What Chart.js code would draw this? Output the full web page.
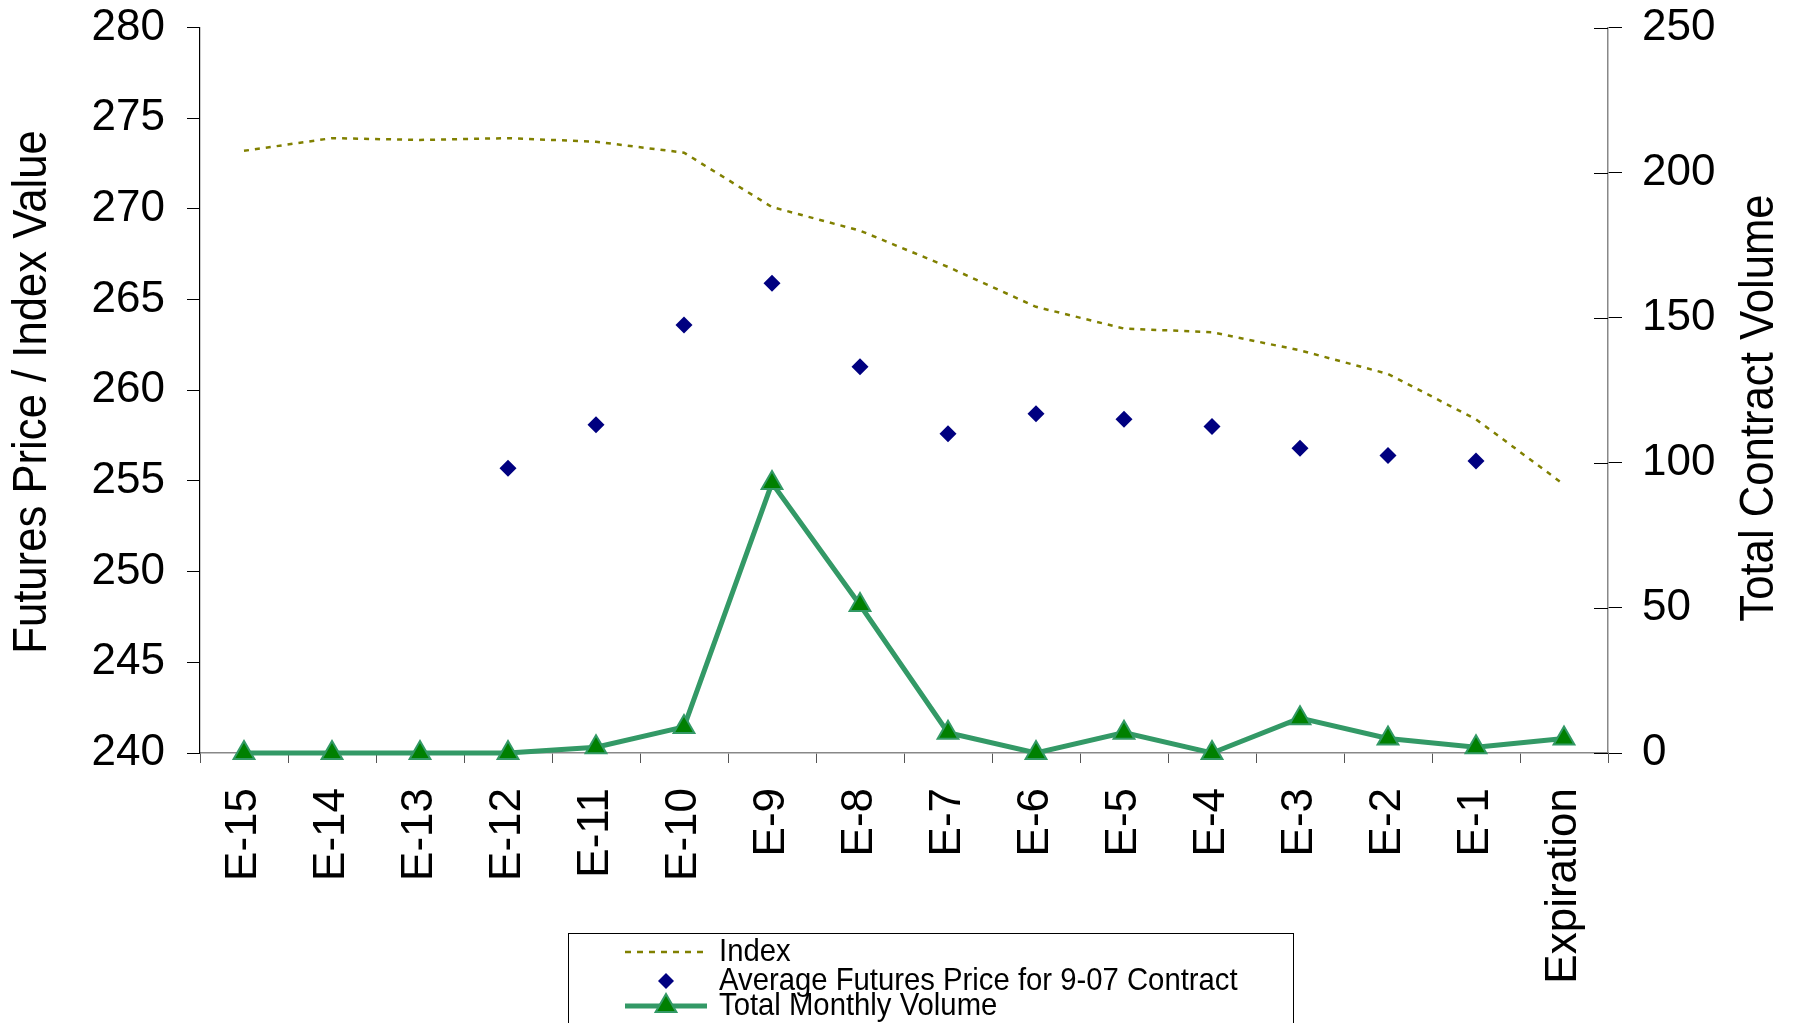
<!DOCTYPE html>
<html><head><meta charset="utf-8">
<script src="https://cdn.jsdelivr.net/npm/chart.js@4.4.0/dist/chart.umd.min.js"></script>
<style>html,body{margin:0;padding:0;background:#fff;overflow:hidden}</style>
</head><body>
<canvas id="c" width="1797" height="1023"></canvas>
<script>
const categories = ['E-15','E-14','E-13','E-12','E-11','E-10','E-9','E-8','E-7','E-6','E-5','E-4','E-3','E-2','E-1','Expiration'];
const indexValues = [273.2, 273.9, 273.8, 273.9, 273.7, 273.1, 270.1, 268.8, 266.8, 264.6, 263.4, 263.2, 262.2, 260.9, 258.4, 254.8];
const futuresPrices = [null, null, null, 255.7, 258.1, 263.6, 265.9, 261.3, 257.6, 258.7, 258.4, 258.0, 256.8, 256.4, 256.1, null];
const monthlyVolume = [0, 0, 0, 0, 2, 9, 93, 51, 7, 0, 7, 0, 12, 5, 2, 5];
const seriesNames = ['Index', 'Average Futures Price for 9-07 Contract', 'Total Monthly Volume'];
const leftRange = [240, 280, 5];
const rightRange = [0, 250, 50];
const leftTitle = 'Futures Price / Index Value';
const rightTitle = 'Total Contract Volume';

const regular = '"Liberation Sans",Arial,sans-serif';

function squeezedText(ctx, text, x, y, rot, font, sx) {
  ctx.save();
  ctx.font = font;
  ctx.fillStyle = '#000';
  ctx.textAlign = 'center'; ctx.textBaseline = 'middle';
  ctx.translate(x, y); ctx.rotate(rot); ctx.scale(sx, 1);
  ctx.fillText(text, 0, 0);
  ctx.restore();
}

const extras = {
  id: 'extras',
  afterDraw(chart) {
    const ctx = chart.ctx;
    const y1 = chart.scales.y1;
    ctx.save();
    ctx.strokeStyle = '#000'; ctx.lineWidth = 1;
    y1.ticks.forEach((t, i) => {
      const py = Math.round(y1.getPixelForTick(i)) + 0.5;
      ctx.beginPath(); ctx.moveTo(y1.left - 14, py); ctx.lineTo(y1.left, py); ctx.stroke();
    });
    ctx.restore();
    squeezedText(ctx, leftTitle, 33, 392, -Math.PI / 2, '48px ' + regular, 0.91);
    squeezedText(ctx, rightTitle, 1760, 408, -Math.PI / 2, '48px ' + regular, 0.91);

    const ds = chart.data.datasets;
    ctx.save();
    ctx.strokeStyle = '#000'; ctx.lineWidth = 1;
    ctx.strokeRect(568.5, 933.5, 725, 120);
    const tx = 719, x0 = 625, x1 = 707, xm = 666;
    const rows = [952, 981, 1006];
    const drawLabel = (t, y) => {
      ctx.save();
      ctx.font = '32px ' + regular; ctx.fillStyle = '#000';
      ctx.textAlign = 'left'; ctx.textBaseline = 'middle';
      ctx.translate(tx, y); ctx.scale(0.915, 1); ctx.fillText(t, 0, 0);
      ctx.restore();
    };
    ctx.strokeStyle = ds[0].borderColor; ctx.lineWidth = 2.5; ctx.setLineDash([6, 6]);
    ctx.beginPath(); ctx.moveTo(x0, rows[0]); ctx.lineTo(x1, rows[0]); ctx.stroke();
    ctx.setLineDash([]);
    drawLabel(ds[0].label, rows[0]);
    ctx.fillStyle = ds[1].pointBackgroundColor;
    ctx.beginPath(); ctx.moveTo(xm, rows[1] - 8); ctx.lineTo(xm + 8, rows[1]); ctx.lineTo(xm, rows[1] + 8); ctx.lineTo(xm - 8, rows[1]); ctx.closePath(); ctx.fill();
    drawLabel(ds[1].label, rows[1]);
    ctx.strokeStyle = ds[2].borderColor; ctx.lineWidth = 5;
    ctx.beginPath(); ctx.moveTo(x0, rows[2]); ctx.lineTo(x1, rows[2]); ctx.stroke();
    const r = 12;
    ctx.beginPath();
    for (let k = 0; k < 3; k++) {
      const a = k * 2 * Math.PI / 3;
      const px = xm + Math.sin(a) * r, py = rows[2] - Math.cos(a) * r;
      k ? ctx.lineTo(px, py) : ctx.moveTo(px, py);
    }
    ctx.closePath();
    ctx.fillStyle = ds[2].pointBackgroundColor; ctx.fill();
    ctx.lineWidth = 2; ctx.strokeStyle = ds[2].pointBorderColor; ctx.stroke();
    drawLabel(ds[2].label, rows[2]);
    ctx.restore();
  }
};

new Chart(document.getElementById('c'), {
  type: 'line',
  data: {
    labels: categories,
    datasets: [
      { label: seriesNames[0], data: indexValues, yAxisID: 'y', borderColor: '#808000', borderWidth: 2.5,
        borderDash: [5, 6], pointRadius: 0, fill: false, tension: 0, order: 3, clip: false },
      { label: seriesNames[1], data: futuresPrices, yAxisID: 'y', showLine: false, pointStyle: 'rectRot',
        pointRadius: 8.5, pointBackgroundColor: '#000080', pointBorderColor: '#000080', pointBorderWidth: 0, borderColor: '#000080', order: 2, clip: false },
      { label: seriesNames[2], data: monthlyVolume, yAxisID: 'y1', borderColor: '#339966', borderWidth: 5,
        pointStyle: 'triangle', pointRadius: 12, pointBackgroundColor: '#008000', pointBorderColor: '#339966',
        pointBorderWidth: 2, tension: 0, fill: false, order: 1, clip: false }
    ]
  },
  options: {
    responsive: false, animation: false, devicePixelRatio: 1,
    layout: { padding: { top: 27.5, left: 0, right: 0, bottom: 0 } },
    plugins: { legend: { display: false }, tooltip: { enabled: false } },
    scales: {
      x: {
        type: 'category', offset: true,
        grid: { offset: true, drawOnChartArea: false, tickLength: 10, color: '#555' },
        border: { color: '#888', width: 1.5 },
        ticks: { autoSkip: false, maxRotation: 90, minRotation: 90, padding: 25, color: '#000',
          font: { family: regular, size: 44 } },
        afterFit: s => { s.height = 270; s.paddingTop = 0; }
      },
      y: {
        position: 'left', min: leftRange[0], max: leftRange[1],
        ticks: { stepSize: leftRange[2], padding: 22, color: '#000', font: { family: regular, size: 44 } },
        grid: { drawOnChartArea: false, tickLength: 13, color: '#000' },
        border: { color: '#000', width: 1.2 },
        afterFit: s => { s.width = 200; s.paddingTop = 0; s.paddingBottom = 0; }
      },
      y1: {
        position: 'right', min: rightRange[0], max: rightRange[1],
        ticks: { stepSize: rightRange[2], padding: 20, color: '#000', font: { family: regular, size: 44 } },
        grid: { drawOnChartArea: false, tickLength: 14, color: '#000' },
        border: { color: '#888', width: 1.5 },
        afterFit: s => { s.width = 189; s.paddingTop = 0; s.paddingBottom = 0; }
      }
    }
  },
  plugins: [extras]
});
</script>
</body></html>
